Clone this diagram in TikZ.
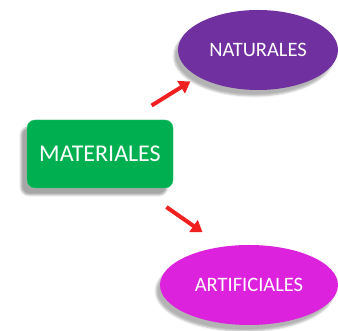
\documentclass[tikz,border=0pt]{standalone}
\usepackage{fontspec}
\setmainfont{Carlito}
\usetikzlibrary{shapes.geometric, arrows.meta, shadows.blur}
\definecolor{mgreen}{HTML}{00B050}
\definecolor{mpurp}{HTML}{7030A0}
\definecolor{mpink}{HTML}{DD22DD}
\definecolor{mred}{HTML}{F02020}
\tikzstyle{main} = [rectangle, rounded corners=8pt, minimum width=146pt, minimum height=68pt, text=white, text centered, fill=mgreen, draw=mgreen!80!white, font=\fontsize{24}{27}\selectfont, blur shadow={shadow xshift=-6pt, shadow yshift=-7pt, shadow opacity=35}]
\tikzstyle{kind} = [ellipse, inner sep=0pt, text=white, text centered, font=\fontsize{20.5}{24}\selectfont, blur shadow={shadow xshift=-4pt, shadow yshift=-6pt, shadow opacity=30}]
\tikzstyle{link} = [line width=4pt, mred, -{Triangle[length=11pt,width=14pt]}]

\begin{document}
\begin{tikzpicture}[x=1pt, y=1pt]
  \useasboundingbox (0,0) rectangle (338,331);
  \node (mat) [main] at (100,177) {MATERIALES};
  \node (nat) [kind, fill=mpurp, minimum width=160pt, minimum height=80pt] at (258,281) {NATURALES};
  \node (art) [kind, fill=mpink, minimum width=178pt, minimum height=80pt] at (249,46) {ARTIFICIALES};
  \draw [link, shorten <=27pt, shorten >=9pt] (mat.50.5) -- (nat.204.6);
  \draw [link, shorten <=33pt, shorten >=25pt] (mat.-41.4) -- (art.124);
\end{tikzpicture}
\end{document}
